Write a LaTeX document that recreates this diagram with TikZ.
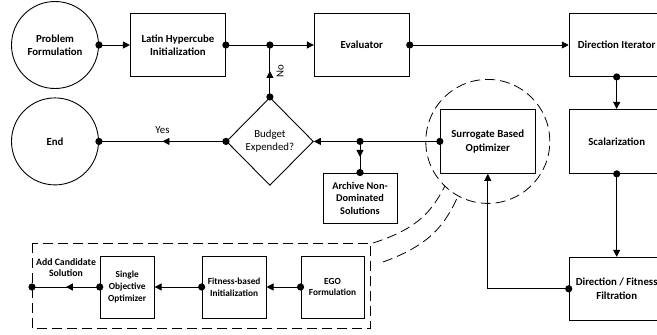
\documentclass[tikz,border=0pt]{standalone}
\usepackage{fontspec}
\setmainfont{Carlito}
\usetikzlibrary{positioning,arrows.meta,calc,shapes.geometric,decorations.markings}
\tikzset{
  flow/.style={-{Triangle[length=7pt,width=7pt]},line width=0.9pt},
  midflow/.style={line width=0.9pt,postaction={decorate},
    decoration={markings,mark=at position 0.5 with {\arrow{Triangle[length=7pt,width=7pt]}}}},
  plainline/.style={line width=0.9pt},
  stepbox/.style={draw,line width=0.9pt,minimum width=95pt,minimum height=63pt,
    inner sep=1pt,align=center,font=\fontsize{10.8}{13.5}\selectfont\bfseries},
  termnode/.style={draw,circle,line width=0.9pt,minimum size=87pt,inner sep=0pt,
    align=center,font=\fontsize{10.8}{13.5}\selectfont\bfseries},
  decision/.style={draw,diamond,line width=0.9pt,minimum width=87pt,minimum height=88pt,
    inner sep=0pt,align=center,font=\fontsize{10.8}{13}\selectfont},
  subbox/.style={draw,line width=0.9pt,minimum height=62pt,inner sep=0pt,
    align=center,font=\fontsize{9.3}{11.7}\selectfont\bfseries},
  callout/.style={dashed,dash pattern=on 10pt off 5pt,line width=0.8pt},
  edgelabel/.style={font=\fontsize{10.8}{13}\selectfont}
}
\begin{document}
\begin{tikzpicture}[x=1pt,y=-1pt]
  \useasboundingbox (0,0) rectangle (657,335);
  % main loop
  \node[termnode] (prob) at (55,45) {Problem\\Formulation};
  \node[stepbox,right=31pt of prob] (lhc) {Latin Hypercube\\Initialization};
  \node[stepbox,right=88pt of lhc] (eval) {Evaluator};
  \node[stepbox,right=159pt of eval] (diriter) {Direction Iterator};
  \node[stepbox,below=32pt of diriter,minimum height=64pt] (scal) {Scalarization};
  \node[stepbox,below=83pt of scal] (filt) {Direction / Fitness\\Filtration};
  \node[stepbox,left=33pt of scal,minimum height=64pt] (sbo) {Surrogate Based\\Optimizer};
  \node[decision,left=126pt of sbo] (budget) {Budget\\Expended?};
  \node[termnode,left=127pt of budget] (endn) {End};
  \node[stepbox,minimum width=74pt,minimum height=50pt,font=\fontsize{10.3}{12.5}\selectfont\bfseries]
    (archive) at (360,198) {Archive Non-\\Dominated\\Solutions};
  % surrogate optimizer detail
  \node[subbox,minimum width=63pt] (ego) at (332.5,287) {EGO\\Formulation};
  \node[subbox,left=34pt of ego,minimum width=64pt] (fit) {Fitness-based\\Initialization};
  \node[subbox,left=47pt of fit,minimum width=54pt] (soo) {Single\\Objective\\Optimizer};
  \node[font=\fontsize{9.8}{11}\selectfont\bfseries,align=center] (addlbl) at (66,268) {Add Candidate\\Solution};
  \coordinate (jtop) at (budget.north |- lhc.east);
  \coordinate (jarch) at (archive.north |- sbo.west);
  \coordinate (outend) at (32,287);
  % connectors
  \draw[flow] (prob) -- (lhc);
  \draw[plainline] (lhc.east) -- (jtop);
  \draw[flow] (jtop) -- (eval);
  \draw[midflow] (budget.north) -- node[right=3pt,edgelabel,rotate=90,anchor=north] (nolbl) {No} (jtop);
  \draw[flow] (eval) -- (diriter);
  \draw[flow] (diriter) -- (scal);
  \draw[flow] (scal) -- (filt);
  \draw[flow] (filt.west) -| (sbo.south);
  \draw[flow] (sbo.west) -- (budget.east);
  \draw[midflow] (jarch) -- (archive.north);
  \draw[midflow] (budget.west) -- node[above=4pt,edgelabel] (yeslbl) {Yes} (endn.east);
  \draw[flow] (ego) -- (fit);
  \draw[flow] (fit) -- (soo);
  \draw[midflow] (soo.west) -- (outend);
  \foreach \p in {prob.east,lhc.east,jtop,budget.north,eval.east,diriter.south,scal.south,
    filt.west,sbo.west,jarch,archive.north,budget.west,endn.east,ego.west,fit.west,soo.west,outend}
    \fill (\p) circle (3.6pt);
  % zoom call-out
  \draw[callout] (sbo.center) circle (62pt);
  \draw[callout] (32,243) rectangle (370,328);
  \draw[callout] (373,243) .. controls (420,228) and (432,210) .. (445,186);
  \draw[callout] (383,262) .. controls (430,245) and (445,225) .. (458,196);
\end{tikzpicture}
\end{document}
